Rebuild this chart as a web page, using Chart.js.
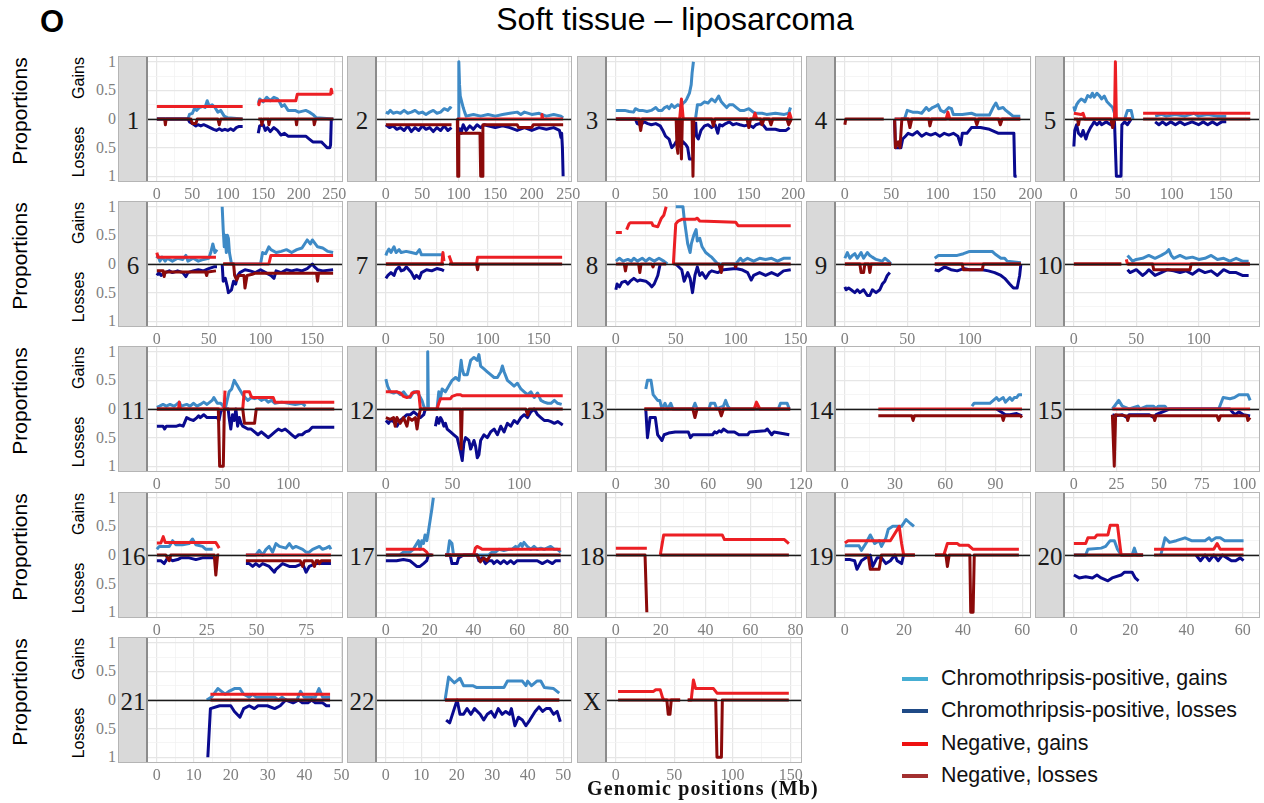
<!DOCTYPE html>
<html><head><meta charset="utf-8">
<script src="https://cdn.jsdelivr.net/npm/chart.js@4.4.0/dist/chart.umd.min.js"></script>
<style>
body{margin:0;background:#fff;}
#root{position:relative;width:1264px;height:803px;overflow:hidden;background:#fff;font-family:"Liberation Sans",Arial,sans-serif;}
.strip{position:absolute;background:#d9d9d9;border-right:2px solid #8c8c8c;box-sizing:border-box;}
.frame{position:absolute;border:1px solid #b5b5b5;box-sizing:border-box;pointer-events:none;}
.chr{position:absolute;font-family:"Liberation Serif",serif;font-size:25px;color:#1a1a1a;transform:translate(-50%,-50%);white-space:nowrap;line-height:1;}
.ytick{position:absolute;font-family:"Liberation Serif",serif;font-size:16px;color:#7f7f7f;transform:translate(-100%,-50%);line-height:1;white-space:nowrap;}
.rot{position:absolute;transform:translate(-50%,-50%) rotate(-90deg);white-space:nowrap;line-height:1;color:#000;}
.txt{position:absolute;white-space:nowrap;line-height:1;}
canvas{position:absolute;}
</style></head><body><div id="root"></div>
<script>
// ---------------- DATA ----------------
const chromosomes = ['1','2','3','4','5','6','7','8','9','10','11','12','13','14','15','16','17','18','19','20','21','22','X'];
const chromEnds = [250,243,200,191,181,171,174,148,142,142,135,133,115,106,104,89,81,79,60,63,48,50,152];
const xTickLabels = [
 [0,50,100,150,200,250],[0,50,100,150,200,250],[0,50,100,150,200],[0,50,100,150,200],[0,50,100,150],
 [0,50,100,150],[0,50,100,150],[0,50,100,150],[0,50,100],[0,50,100],
 [0,50,100],[0,50,100],[0,30,60,90,120],[0,30,60,90],[0,25,50,75,100],
 [0,25,50,75],[0,20,40,60,80],[0,20,40,60,80],[0,20,40,60],[0,20,40,60],
 [0,10,20,30,40,50],[0,10,20,30,40,50],[0,50,100,150]
];
const yTickValues = [1,0.5,0,-0.5,-1];
const yTickText = ['1','0.5','0','0.5','1'];
const seriesNames = ['Chromothripsis-positive, gains','Chromothripsis-positive, losses','Negative, gains','Negative, losses'];

// values: flat [x(Mb), proportion, ...], null = gap; losses are stored as positive proportions
const cpGains = [
 [0,0,44,0,46,0.08,50,0.1,53,0.18,56,0.15,60,0.2,65,0.22,68,0.2,71,0.32,74,0.22,78,0.25,82,0.2,86,0.12,90,0.15,95,0.05,100,0.02,121,0,null,143,0.28,145,0.35,150,0.3,155,0.38,160,0.32,165,0.38,170,0.35,173,0.3,176,0.22,180,0.25,185,0.15,195,0.15,200,0.12,210,0.15,215,0.12,220,0.08,225,0.02,249,0],
 [0,0.12,3,0.1,6,0.15,10,0.1,15,0.12,20,0.1,25,0.15,30,0.1,35,0.12,40,0.15,45,0.1,50,0.12,55,0.08,60,0.12,65,0.15,70,0.1,75,0.12,80,0.18,85,0.15,88,0.2,90,0.18,null,99,0,100,1.0,101,0.6,102,0.4,104,0.3,106,0.2,108,0.12,110,0.05,120,0.08,130,0.05,140,0.08,150,0.05,160,0.08,170,0.1,180,0.12,185,0.08,190,0.12,200,0.08,210,0.1,220,0.05,230,0.08,240,0.05,243,0.02],
 [0,0.15,10,0.15,15,0.13,20,0.12,22,0.18,26,0.15,30,0.15,35,0.13,40,0.15,45,0.2,48,0.15,52,0.15,55,0.2,58,0.22,60,0.18,63,0.25,66,0.2,70,0.25,73,0.22,76,0.28,78,0.3,80,0.35,83,0.45,85,0.6,86,0.8,87.5,1.0,null,90,0.02,92,0.25,96,0.25,100,0.3,104,0.28,108,0.35,112,0.3,116,0.4,119,0.3,122,0.25,125,0.2,128,0.25,132,0.25,136,0.2,140,0.15,145,0.15,150,0.18,155,0.12,158,0.1,165,0.1,170,0.08,180,0.1,190,0.08,195,0.1,197,0.2],
 [53.6,0,64.3,0,67.2,0.15,73,0.12,77.9,0.12,82.8,0.1,87.7,0.2,90.6,0.15,94.5,0.2,97.4,0.22,100.3,0.25,103.2,0.15,107.1,0.12,112,0.2,114.9,0.18,116.9,0.08,126.6,0.08,136.4,0.1,141.2,0.07,155.8,0.07,159.7,0.2,162.7,0.28,165.6,0.18,170.5,0.2,173.4,0.15,177.3,0.1,181.2,0.05,189,0.05],
 [0,0.22,0.9,0.15,2.8,0.25,4.7,0.3,7.5,0.35,9.4,0.33,11.3,0.3,14.1,0.41,17,0.38,18.9,0.45,20.7,0.38,23.6,0.45,26.4,0.4,28.3,0.35,31.1,0.4,33.9,0.3,36.8,0.25,39.6,0.2,41.5,0.1,42.4,0.02,null,51.9,0,54.7,0.15,58.5,0.15,60.4,0,null,83,0.05,89.6,0.08,94.3,0.05,103.7,0.08,113.2,0.05,122.6,0.1,127.3,0.05,136.7,0.08,146.2,0.05,155.6,0.05],
 [0,0.1,1,0.15,3,0.05,5,0.12,8,0.05,10,0.1,15,0.05,20,0.1,25,0.08,28,0.15,30,0.05,35,0.1,40,0.05,45,0.08,50,0.1,52,0.2,54,0.35,56,0.2,58,0.25,null,63,1.0,64,0.6,65,0.3,66,0.5,67,0.2,68,0.5,69,0.45,70,0.2,71,0.1,72,0,100,0,102,0.2,105,0.18,108,0.3,110,0.25,115,0.2,120,0.22,125,0.25,130,0.2,135,0.25,140,0.28,145,0.42,148,0.35,150,0.42,155,0.3,160,0.28,165,0.22,170,0.2],
 [0,0.15,1,0.2,3,0.26,5,0.2,8,0.3,10,0.2,13,0.25,15,0.2,20,0.22,25,0.2,30,0.18,33,0.25,35,0.16,57,0.16],
 [0,0.05,3,0.1,6,0.05,10,0.08,13,0.05,15,0.1,18,0.05,22,0.1,25,0.05,28,0.1,32,0.05,36,0.1,40,0.05,43,0,null,50,1.0,56,1.0,57,0.8,59,0.5,60,0.35,62,0.2,63,0.35,65,0.5,67,0.6,68,0.4,70,0.45,72,0.3,75,0.2,78,0.15,80,0.12,83,0.05,85,0,100,0,102,0.05,104,0.1,106,0.05,110,0.1,115,0.05,120,0.1,125,0.08,130,0.1,135,0.05,140,0.1,146,0.1],
 [0,0.1,2,0.2,4,0.1,6,0.15,8,0.18,10,0.1,13,0.2,15,0.1,18,0.2,20,0.15,22,0.12,25,0.08,30,0.05,32,0.1,35,0.05,37,0,null,72,0.1,75,0.15,90,0.15,95,0.18,100,0.22,118,0.22,120,0.18,125,0.1,128,0.1,130,0.05,141,0.02],
 [43,0.15,45,0.1,47,0.05,50,0.08,55,0.1,60,0.15,65,0.1,70,0.15,74,0.2,76,0.25,78,0.15,80,0.1,85,0.15,90,0.1,95,0.12,100,0.08,105,0.1,110,0.15,115,0.08,120,0.1,125,0.05,130,0.1,135,0.05,140,0.05],
 [0,0.03,2.1,0.05,4.7,0.08,7.2,0.05,10,0.08,13,0.05,15,0.08,17.1,0.12,18.5,0.05,22.7,0.08,25.3,0.05,28,0.1,30.5,0.05,33.1,0.08,35.7,0.12,38.2,0.08,42.1,0.15,43.4,0.2,46,0.1,48.6,0.1,50.6,0.05,52.5,0.05,55,0.3,57,0.35,58.9,0.5,60.2,0.45,61.5,0.4,62.8,0.35,64.1,0.3,65.4,0.25,67.2,0.2,69.3,0.15,71.8,0.2,74.4,0.18,77,0.2,79.6,0.15,82.2,0.18,84.8,0.12,87.3,0.15,89.9,0.1,95.1,0.12,100.3,0.1,105.4,0.08,110.6,0.1,113.2,0.05],
 [0,0.52,1.3,0.4,3.3,0.3,5.8,0.28,8.3,0.3,10.8,0.25,13.3,0.3,15.8,0.22,18.3,0.2,20.9,0.3,23.4,0.3,25.9,0.2,27.1,0.15,28.4,0.05,29.6,0,30.9,0,31.4,1.0,31.9,0,null,38.4,0,39.7,0.3,41,0.2,42.2,0.35,44.7,0.3,47.2,0.4,49.7,0.5,52.3,0.55,54.8,0.5,56.5,0.85,57.3,0.7,58.5,0.6,61.1,0.6,63.6,0.85,66.1,0.9,68.6,0.85,69.8,0.95,71.1,0.75,73.6,0.7,76.1,0.65,78.6,0.6,81.2,0.55,83.7,0.55,86.2,0.65,87.4,0.75,88.7,0.65,91.2,0.5,93.7,0.45,96.2,0.4,98.7,0.45,101.3,0.35,103.8,0.3,106.3,0.25,108.8,0.3,111.3,0.2,113.8,0.28,116.3,0.15,118.8,0.12,121.4,0.1,123.9,0.1,126.4,0.15,128.9,0.1,131.9,0.08],
 [19.4,0.35,20.5,0.5,22.8,0.5,24.2,0.25,27.1,0.15,28.5,0.15,29.9,0,31.9,0.1,33.6,0,35.6,0.1,37,0,49.9,0,51.3,0.1,52.7,0,60.4,0,61.5,0.1,64.1,0.1,65.5,0,69.8,0.05,71.2,0.15,72.6,0.05,74.1,0,105.4,0,106.8,0.1,111.1,0.1,112.5,0],
 [76,0.05,77.3,0.1,86.7,0.1,90.7,0.2,92,0.15,94.7,0.2,96,0.12,98.7,0.2,100,0.15,101.3,0.2,102.7,0.2,104,0.25,105.9,0.25],
 [22.6,0,26.3,0.15,28.4,0.05,32.4,0,37.6,0.05,38.9,0,42.9,0.05,46.8,0.05,48.2,0,49.5,0.05,53.4,0.05,54.7,0,85,0,87.6,0.2,91.6,0.18,94.2,0.2,96.8,0.25,102.1,0.25,103.4,0.15],
 [0,0.1,1.2,0.15,6.2,0.15,7.9,0.25,9.5,0.18,12.9,0.18,16.2,0.2,17.9,0.28,19.6,0.18,22.9,0.15,24.6,0.1,28,0.1,null,44.7,0,49.7,0,51.4,0.08,53.1,0,54.8,0.1,56.4,0.15,58.1,0.05,59.8,0.2,61.5,0.15,64.8,0.12,66.5,0.2,68.2,0.12,69.8,0.15,73.2,0.1,74.9,0.05,76.5,0.05,78.2,0.1,81.6,0.15,83.2,0.1,84.9,0.12,86.6,0.15,87.4,0.1],
 [0,0,6.4,0,8,0.05,11,0.05,12.6,0.1,13.3,0.15,14.9,0.25,15.6,0.1,16.4,0.25,17.2,0.2,17.9,0.35,18.7,0.25,19.4,0.4,20.2,0.6,21,0.8,21.7,1.0,null,27.1,0,28.2,0,29.1,0.25,30.2,0.2,30.9,0,47,0,48.5,0.05,50.1,0.05,51.6,0.1,53.9,0.08,56.2,0.1,57.7,0.1,59.3,0.15,60,0.12,61.6,0.2,62.3,0.15,63.1,0.22,64.6,0.15,66.2,0.1,67.7,0.15,69.2,0.1,70.8,0.12,72.3,0.1,75.3,0.15,76.9,0.1,78.4,0.1,79.9,0.05],
 [],
 [0,0.16,4.8,0.16,5.6,0.08,7.1,0.2,8.6,0.35,10.1,0.2,11.6,0.25,12.4,0.15,13.9,0.3,14.7,0.45,16.2,0.5,19.2,0.5,20.7,0.62,22.2,0.55,23.4,0.5],
 [0,0,4.2,0,5,0.1,9.7,0.12,11.3,0.15,12.9,0.25,14.4,0.25,15.5,0.1,16.8,0,20.7,0,21.5,0.12,22.3,0,24.6,0,null,30.9,0,32.4,0.3,34,0.22,36.4,0.25,39.5,0.3,41.8,0.25,46.6,0.25,48.1,0.3,48.9,0.25,50.5,0.3,52,0.3,53.6,0.25,60.3,0.25],
 [13.5,0,14.8,0.05,16.5,0.2,17.5,0.15,18.5,0.1,19.5,0.15,21,0.2,22.5,0.2,23.5,0.1,25,0.05,25.9,0.1,26.9,0.05,31.9,0.05,32.9,0,33.9,0.05,34.9,0,37.9,0,38.9,0.15,39.9,0.05,42.9,0.05,43.9,0.2,44.9,0.05,46.9,0.05],
 [16.7,0,17.7,0.4,19.3,0.3,20.9,0.38,21.9,0.25,24.5,0.25,25.5,0.22,33.3,0.22,34.3,0.33,38.5,0.33,39.5,0.25,40,0.33,41.1,0.25,42.6,0.33,43.7,0.33,44.7,0.22,47.3,0.2,48.9,0.12],
 []
];
const cpLosses = [
 [0,0,44,0,46,0.05,50,0.08,55,0.12,58,0.1,62,0.12,66,0.1,70,0.12,75,0.15,80,0.18,84,0.2,88,0.17,92,0.2,96,0.18,100,0.2,104,0.17,108,0.2,112,0.15,116,0.13,121,0.13,null,143,0.25,145,0.12,150,0.1,153,0.2,156,0.15,160,0.22,165,0.15,170,0.2,175,0.28,180,0.25,185,0.3,210,0.3,215,0.35,220,0.4,232,0.4,236,0.45,240,0.5,244,0.5,245,0.45,246,0],
 [0,0.1,5,0.15,10,0.12,15,0.18,20,0.15,25,0.2,30,0.12,35,0.22,40,0.15,45,0.2,50,0.12,55,0.18,60,0.15,65,0.22,70,0.15,75,0.2,80,0.12,85,0.2,90,0.15,null,100,0.15,103,0.25,106,0.1,110,0.2,115,0.12,120,0.18,125,0.1,130,0.15,135,0.1,140,0.12,150,0.15,160,0.12,170,0.15,180,0.2,190,0.15,200,0.2,210,0.15,220,0.18,230,0.15,238,0.2,240,0.32,241,0.25,242,0.5,243,1.0],
 [0,0,22,0,24,0.08,28,0.1,32,0.05,36,0.08,40,0.1,45,0.08,50,0.12,53,0.2,56,0.3,60,0.35,63,0.5,66,0.45,68,0.4,70,0.45,73,0.48,76,0.4,79,0.45,81,0.5,83,0.7,86,0.7,null,90,0.05,91,0.3,93,0.35,96,0.2,100,0.12,104,0.1,108,0.15,112,0.1,115,0.25,117,0.1,120,0.12,124,0.08,128,0.05,132,0.1,136,0.08,140,0.1,145,0.12,150,0.1,155,0.15,158,0.1,162,0.08,166,0.1,170,0.18,180,0.18,185,0.2,192,0.2,196,0.15],
 [53.6,0,54.5,0.5,60.4,0.5,62.3,0.35,65.3,0.3,68.2,0.25,73,0.28,77.9,0.22,82.8,0.3,87.7,0.25,92.5,0.28,97.4,0.25,102.3,0.3,107.1,0.25,112,0.28,116.9,0.25,121.8,0.3,124.7,0.45,126.6,0.25,131.5,0.25,136.4,0.15,146.1,0.15,155.8,0.18,165.6,0.25,175.3,0.25,182.1,0.25,183.1,1.0,185.1,1.0],
 [0,0.48,0.9,0.2,2.8,0.1,4.7,0.25,7.5,0.3,9.4,0.2,12.3,0.35,14.1,0.25,17,0.15,18.9,0.1,20.7,0.05,23.6,0.1,26.4,0.05,28.3,0.1,33,0.05,37.7,0.1,41.5,0.05,43.4,1.0,48.1,1.0,49,0.1,51.9,0.05,54.7,0.1,56.6,0.05,58.5,0,null,83,0.05,86.8,0.1,90.5,0.05,94.3,0.1,99,0.05,103.7,0.1,108.4,0.05,113.2,0.1,120.7,0.05,127.3,0.1,132,0.05,136.7,0.1,141.5,0.05,146.2,0.1,150.9,0.05,155.6,0.05],
 [0,0.2,2,0.15,4,0.2,8,0.15,12,0.12,15,0.15,20,0.12,25,0.15,28,0.22,30,0.15,35,0.12,40,0.1,45,0.12,50,0.08,55,0.05,58,0.05,null,63,0,64,0.3,66,0.25,68,0.4,69,0.5,72,0.45,74,0.3,76,0.35,78,0.2,80,0.15,85,0.1,90,0.12,95,0.15,100,0.1,105,0.15,110,0.2,113,0.25,115,0.12,120,0.15,125,0.1,130,0.12,135,0.1,140,0.12,145,0.08,150,0,152,0.05,155,0.1,160,0.12,170,0.1],
 [0,0.25,2,0.2,5,0.15,8,0.2,10,0.1,13,0.05,15,0.12,18,0.1,20,0.05,25,0.15,28,0.25,30,0.2,33,0.25,35,0.15,40,0.1,45,0.12,50,0.08,55,0.1,57,0.12],
 [0,0.45,1,0.35,3,0.4,5,0.32,8,0.3,10,0.35,12,0.3,15,0.25,18,0.3,20,0.28,25,0.3,28,0.35,30,0.4,32,0.35,35,0.2,37,0,null,50,0,55,0.1,57,0.3,60,0.15,62,0.25,64,0.5,66,0.2,68,0.05,70,0.2,72,0.15,75,0.25,78,0.15,80,0.12,85,0.15,90,0.1,100,0.08,105,0.1,110,0.15,113,0.28,115,0.2,120,0.15,125,0.2,130,0.15,135,0.2,140,0.12,146,0.1],
 [0,0.4,1,0.45,3,0.42,5,0.45,8,0.5,10,0.45,12,0.5,15,0.45,18,0.55,20,0.55,22,0.45,25,0.5,28,0.45,30,0.35,32,0.3,34,0.2,36,0.15,null,72,0.1,75,0.12,80,0.05,85,0.1,90,0.12,95,0.08,100,0.1,110,0.1,115,0.12,120,0.15,125,0.2,128,0.25,132,0.35,135,0.42,138,0.42,140,0.2,141,0],
 [43,0.1,45,0.15,50,0.1,55,0.2,58,0.15,60,0.1,65,0.2,70,0.15,75,0.1,80,0.12,85,0.15,90,0.12,95,0.18,100,0.1,105,0.15,110,0.12,115,0.2,120,0.1,125,0.15,130,0.15,135,0.2,140,0.2],
 [0,0.3,4.7,0.3,5.9,0.35,7.2,0.3,15,0.3,17.6,0.28,20,0.3,22.7,0.15,25.3,0.18,28,0.2,30.5,0.15,31.8,0.12,33.1,0.15,35.7,0.1,38.2,0.15,46,0.15,47.3,0.2,48.6,0.05,49.9,0,54.3,0,55,0.15,56.3,0.35,57.6,0.1,58.9,0.2,60.2,0,61.5,0.3,62.8,0.15,64.1,0.25,65.4,0.3,69.3,0.35,71.8,0.35,74.4,0.4,77,0.45,79.6,0.4,82.2,0.45,84.8,0.5,87.3,0.45,89.9,0.4,92.5,0.35,95.1,0.38,97.7,0.35,100.3,0.4,102.8,0.45,105.4,0.5,108,0.45,110.6,0.45,113.2,0.4,115.8,0.38,118.3,0.32,135.1,0.32],
 [0,0.2,2,0.25,3.3,0.2,5.8,0.22,8.3,0.3,10.8,0.2,13.3,0.15,15.8,0.1,18.3,0.1,20.9,0.05,23.4,0.1,25.9,0.15,28.4,0.1,29.6,0,null,37.2,0.3,38.4,0.15,39.7,0.25,41,0.15,42.2,0.2,43.5,0.3,44.7,0.25,46,0.35,48.5,0.4,51,0.45,53.5,0.5,56,0.75,57.3,0.9,58.5,0.6,59.8,0.5,62.3,0.55,63.6,0.7,66.1,0.55,67.3,0.65,68.6,0.85,69.8,0.8,71.1,0.55,73.6,0.45,76.1,0.5,78.6,0.4,81.2,0.35,83.7,0.45,86.2,0.3,88.7,0.4,91.2,0.25,93.7,0.3,96.2,0.2,98.7,0.25,101.3,0.15,103.8,0.1,106.3,0.15,108.8,0.05,111.3,0,113.8,0.1,116.3,0.15,118.8,0.2,121.4,0.2,123.9,0.22,126.4,0.25,128.9,0.22,132.7,0.28],
 [19.4,0,20.5,0.5,22.2,0.15,25.6,0.15,27.1,0.45,28.5,0.5,29.9,0.55,31.3,0.45,34.2,0.42,38.5,0.4,47,0.4,48.4,0.5,49.9,0.45,62.7,0.45,64.1,0.4,65.5,0.42,67,0.38,68.4,0.4,69.8,0.35,72.6,0.4,76.9,0.4,79.8,0.45,85.5,0.45,86.9,0.4,96.9,0.38,98.3,0.35,101.1,0.45,102.6,0.4,112.5,0.45],
 [90.7,0,93.3,0.05,96,0.1,98.7,0.1,102.7,0.08,105.9,0.12],
 [22.6,0.1,24.5,0.12,28.4,0.1,31.1,0.15,32.4,0.1,44.2,0.1,46.8,0.15,48.2,0.1,56,0,91.6,0,92.9,0.05,94.7,0.1,96.8,0.05,99.5,0.1,103.4,0.12],
 [0,0.1,2,0.1,3.7,0.15,5.4,0.05,7.9,0.1,10.4,0.08,12.1,0.05,16.2,0.05,19.6,0.08,22.9,0.05,28.8,0.05,null,44.7,0.15,46.4,0.15,48.1,0.2,49.7,0.15,51.4,0.2,53.1,0.15,56.4,0.2,59,0.3,59.8,0.25,61.5,0.2,63.1,0.15,66.5,0.2,69.8,0.2,73.2,0.15,74.9,0.3,76.5,0.2,79.9,0.15,87.4,0.15],
 [0,0.1,4.9,0.1,8,0.08,11,0.1,12.6,0.15,14.1,0.2,15.6,0.2,17.2,0.15,18.7,0.1,19.4,0,21,0,null,27.1,0,29.4,0,30.2,0.15,32.5,0.15,33.2,0.05,35.5,0,41.7,0,42.5,0.1,44,0.05,45.5,0.15,47,0.1,48.5,0.1,49.3,0.15,50.8,0.1,52.4,0.15,53.9,0.1,55.4,0.15,57,0.1,58.5,0.15,60,0.1,63.1,0.1,66.2,0.1,69.2,0.1,71.5,0.15,73.8,0.1,76.1,0.15,77.6,0.1,79.9,0.1],
 [],
 [0,0.08,1.8,0.08,3.3,0.1,4.1,0.25,5.6,0.1,7.1,0.05,8.6,0,9.4,0.2,10.9,0.05,12.4,0.05,13.9,0.15,15.4,0.1,16.9,0,17.7,0.1,19.2,0.15,19.9,0],
 [0,0.35,1.9,0.4,4.2,0.38,6.6,0.4,8.2,0.35,9.7,0.4,12.1,0.45,13.6,0.4,16.8,0.35,18,0.3,20.7,0.3,21.8,0.4,23,0.45,null,43.4,0,45,0.1,46.6,0,48.1,0.1,49.7,0,51.3,0.1,52.8,0,54.4,0.05,56,0.1,57.5,0.1,59.1,0.05,60.3,0.1],
 [13.8,1.0,14.5,0.15,17,0.1,20,0.1,21,0.2,22.5,0.3,23.5,0.15,25,0.1,26.4,0.15,27.4,0.1,29.9,0.1,31.9,0.15,33.4,0.1,34.9,0,36.9,0.05,38.4,0,39.4,0.05,40.9,0.05,41.9,0,42.9,0.05,44.9,0.05,45.9,0.1,46.9,0.1],
 [17,0.35,18,0.4,19.3,0.15,20.1,0,20.9,0.25,21.9,0.25,22.9,0.15,24,0.25,25,0.15,26.6,0.25,27.6,0.35,28.6,0.25,29.7,0.2,30.7,0.3,31.7,0.15,32.8,0.25,33.8,0.2,34.9,0.25,35.4,0.15,36.4,0.45,37.4,0.3,38.5,0.35,39.5,0.45,40.6,0.35,42.1,0.2,43.2,0.12,44.2,0.2,45.2,0.15,46.3,0.15,47.3,0.25,48.3,0.2,49.2,0.38],
 []
];
const negGains = [
 [0,0.22,121,0.22,null,143,0.28,144,0.25,145,0.32,196,0.32,198,0.43,245,0.43,246,0.52,247,0.46,249,0.46],
 [99,0,213,0,214,0.08,215,0,243,0],
 [0,0,72,0,74,0.35,76,0,155,0,157,0.1,159,0,194,0,196,0.1,198,0],
 [53.6,0,109.1,0,111,0.12,113,0,189,0],
 [0,0.1,7.5,0.08,9.4,0.1,11.3,0,41.5,0,42.4,1.0,43.4,0,58.5,0,null,70.7,0.1,180.1,0.1],
 [0,0.2,1,0.12,57,0.12,null,64,0,108,0,110,0.15,170,0.15],
 [0,0,55,0,56,0.2,57,0.05,null,62,0.15,64,0.05,65,0,89,0,90,0.12,173,0.12],
 [0,0.55,5,0.55,null,9,0.6,11,0.7,12,0.72,30,0.72,31,0.67,35,0.65,38,0.8,40,0.85,42,1.0,null,48,0,50,0.7,52,0.75,55,0.78,66,0.78,68,0.8,70,0.75,100,0.73,102,0.67,146,0.67],
 [0,0,37,0,null,72,0,141,0],
 [0,0,38,0,null,42,0.08,43,0,141,0],
 [0,0,16.5,0,17.1,0.12,17.7,0,51.2,0,51.9,0.32,52.5,0.32,null,65.4,0,66.5,0.3,70.5,0.3,71.8,0.22,73.1,0.2,88.6,0.2,89.9,0.12,135.1,0.12],
 [0,0.3,8.3,0.3,10.8,0.28,13.3,0.22,15.8,0.2,18.3,0.22,19.6,0.28,23.4,0.3,24.6,0.3,25.9,0,38.4,0,39.7,0.1,41,0.18,48.5,0.18,49.7,0.22,53.5,0.25,56,0.25,57.3,0.23,132.7,0.23],
 [18.5,0,89.7,0,91.2,0.12,93.4,0,113.1,0],
 [20,0,105.9,0],
 [22.6,0,103.4,0],
 [0,0.21,2,0.21,3.2,0.32,4.2,0.22,29.6,0.22,31.3,0.12,null,44.7,0,87.4,0],
 [0,0.1,17.2,0.1,18.7,0.05,19.4,0,null,27.1,0,40.1,0,40.9,0.12,41.7,0.15,43.2,0.12,44,0.1,79.9,0.1],
 [0,0.12,13.8,0.12,null,19.8,0,21.3,0.35,47.4,0.35,48.4,0.27,75.1,0.27,77.1,0.2],
 [0,0.21,1.1,0.25,15.4,0.25,18.4,0.5,19.2,0.2,19.9,0,23.7,0,null,30.5,0,33.5,0,34.7,0.2,38.1,0.2,38.8,0.17,41.8,0.17,43.4,0.1,58.9,0.1],
 [0,0.2,4.2,0.2,5,0.3,7.4,0.3,8.2,0.35,12.1,0.35,12.9,0.52,15.5,0.52,16.8,0,24.6,0,null,28.5,0.1,49.7,0.1,50.9,0.2,52,0.1,60.3,0.1],
 [14.5,0.1,46.9,0.1],
 [16.7,0,48.9,0],
 [1.9,0.15,32.3,0.15,34.2,0.18,38,0.18,39.9,0.05,41.1,0,55.1,0,null,61.6,0,64.6,0,66.5,0.35,68.4,0.2,83.7,0.2,86.7,0.12,148.3,0.12]
];
const negLosses = [
 [0,0,11,0,12,0.1,13,0,48,0,50,0.08,55,0.08,57,0,86,0,88,0.1,90,0,121,0,null,143,0,147,0,148,0.1,150,0,157,0,158,0.1,160,0,196,0,197,0.1,198,0,221,0,222,0.1,224,0,249,0],
 [0,0.1,90,0.1,null,98,0,98.5,1.0,99.5,1.0,100,0.25,129,0.25,130,1.0,132,1.0,133,0.1,180,0.1,182,0.15,200,0.15,202,0.1,243,0.1],
 [0,0,26,0,28,0.2,30,0,68,0,69,0.5,70,0.6,71,0,73,0,74,0.7,75,0,86,0,87,1.0,88,0,108,0,110,0.12,112,0,148,0,150,0.15,152,0,163,0,165,0.1,167,0,173,0,175,0.1,177,0,193,0,195,0.1,198,0],
 [0,0.1,1,0,41.9,0,null,53.6,0,54.5,0.5,57.5,0.4,59.4,0.5,61.4,0,68.2,0,70.1,0.15,72.1,0,90.6,0,91.6,0.12,93.5,0,140.3,0,142.2,0.1,144.2,0,165.6,0,167.5,0.1,169.5,0,189,0],
 [0,0,3.8,0,4.7,0.1,5.7,0,37.7,0,39.6,0.15,41.5,0,58.5,0,null,70.7,0,180.1,0],
 [0,0.12,6,0.12,7,0.22,8,0.14,47,0.14,48,0.2,49,0.14,57,0.12,null,64,0,74,0,75,0.2,77,0.28,79,0.2,84,0.2,85,0.42,87,0.2,92,0.18,95,0.16,154,0.16,155,0.3,156,0.16,170,0.16],
 [0,0,57,0,null,62,0,89,0,90,0.1,91,0,173,0],
 [0,0,7,0,8,0.12,9,0,19,0,20,0.15,21,0,30,0,31,0.05,32,0,42,0,null,48,0,86,0,88,0.15,89,0,99,0,100,0.05,101,0,146,0],
 [0,0,12,0,13,0.15,15,0.15,16,0,19,0,20,0.15,21,0,37,0,null,72,0,94,0,95,0.1,110,0.1,111,0,141,0],
 [0,0,38,0,null,43,0,63,0,64,0.1,93,0.1,94,0,141,0],
 [0,0,46.8,0,47.8,1.0,50.6,1.0,51.4,0,65.4,0,66.7,0.25,74.4,0.25,75.7,0,135.1,0],
 [0,0.15,3.3,0.18,5.8,0.15,7,0.3,8.3,0.15,10.8,0.25,13.3,0.15,15.8,0.3,17.1,0.15,19.6,0.2,22.1,0.15,23.4,0.35,24.6,0.15,25.9,0,56,0,56.5,0.7,57.3,0,105,0,106.3,0.1,107.5,0,132.7,0],
 [18.5,0,49.9,0,51.3,0.15,52.7,0,67,0,68.4,0.12,69.8,0,113.1,0],
 [20,0.12,40,0.12,40.8,0.2,41.6,0.12,94,0.12,94.7,0.2,95.5,0.12,105,0.12,105.9,0.15],
 [22.6,0.1,23.7,1.0,24.5,0.1,31.1,0.12,31.6,0.2,32.4,0.12,46.8,0.12,47.4,0.2,48.2,0.12,84,0.12,85,0.2,86,0.12,101.5,0.12,102.1,0.2,103.4,0.15],
 [0,0,4.5,0,6.2,0.1,7,0,28.8,0,29.6,0.35,30.5,0,31.3,0,null,44.7,0.1,72,0.1,73.2,0.2,74,0.1,78,0.1,79.1,0.2,80,0.1,81,0.1,81.6,0.15,82.5,0.1,87.4,0.1],
 [0,0,21.7,0,null,27.1,0,41.7,0,43.2,0.12,44.7,0.05,46.2,0.1,47.8,0,79.9,0],
 [0,0,13,0,13.8,1.0,null,19.8,0,77.1,0],
 [0,0,7.9,0,8.6,0.25,11.6,0.25,12.4,0,23.7,0,null,30.5,0,34.2,0,34.7,0.2,35.3,0,42.3,0,42.6,1.0,43.4,1.0,43.8,0,58.9,0],
 [0,0,24.6,0,null,28.5,0,60.3,0],
 [14.5,0,46.9,0],
 [16.7,0,48.9,0],
 [1.9,0,43.7,0,44.9,0.25,46.4,0.25,47.5,0,55.1,0,null,61.6,0,85.6,0,86.7,1.0,90.5,1.0,91.3,0,148.3,0]
];

// ---------------- STYLE ----------------
const lineColors = {cpG:'#3e8ac6', cpL:'#0a0a8f', nG:'#ec1f24', nL:'#8b0a0a'};
const legendColors = ['#46aed3','#1f4a86','#ee1111','#a33030'];

const root = document.getElementById('root');
function el(cls, css, text){
  const d = document.createElement('div');
  if (cls) d.className = cls;
  Object.assign(d.style, css);
  if (text != null) d.textContent = text;
  root.appendChild(d);
  return d;
}

// header
el('txt', {left:'52px', top:'21px', transform:'translate(-50%,-50%)', fontSize:'31px', fontWeight:'bold'}, 'O');
el('txt', {left:'675px', top:'19px', transform:'translate(-50%,-50%)', fontSize:'32px'}, 'Soft tissue \u2013 liposarcoma');

const PLOT_H = 126, PLOT_W = 195, STRIP_W = 30;
const unitPx = PLOT_H / 2.2;
const colLeft = c => Math.round(118 + 229.3 * c);
const rowZero = r => Math.round(118.5 + 145.4 * r);

function toPts(a, s){
  const out = [];
  for (let i = 0; i < a.length;){
    if (a[i] === null){ out.push({x: out.length ? out[out.length-1].x : 0, y: null}); i++; }
    else { out.push({x: a[i], y: s * a[i+1]}); i += 2; }
  }
  return out;
}

const zeroLine = {
  id:'zeroLine',
  afterDatasetsDraw(chart){
    const {ctx, chartArea, scales} = chart;
    const y = Math.round(scales.y.getPixelForValue(0)) + 0.5;
    ctx.save();
    ctx.strokeStyle = '#1a1a1a'; ctx.lineWidth = 1.6;
    ctx.beginPath(); ctx.moveTo(chartArea.left, y); ctx.lineTo(chartArea.right, y); ctx.stroke();
    ctx.restore();
  }
};
const yGridVals = [-1,-0.75,-0.5,-0.25,0,0.25,0.5,0.75,1];

// row labels
for (let r = 0; r < 5; r++){
  const z = rowZero(r);
  el('rot', {left:'19px', top:(z-8)+'px', fontSize:'21px'}, 'Proportions');
  el('rot', {left:'79px', top:(z-41)+'px', fontSize:'16px'}, 'Gains');
  el('rot', {left:'79px', top:(z+33)+'px', fontSize:'16px'}, 'Losses');
  yTickValues.forEach((v, k) => {
    el('ytick', {left:'116px', top:(z - v*unitPx)+'px'}, yTickText[k]);
  });
}

chromosomes.forEach((chr, i) => {
  const r = Math.floor(i/5), c = i % 5;
  const sx = colLeft(c), z = rowZero(r), top = z - PLOT_H/2;
  const D = chromEnds[i];
  const labels = xTickLabels[i];
  const step = labels[1] - labels[0];
  const half = step / 2;
  const xmin = -0.05*D, xmax = 1.05*D;

  el('strip', {left:sx+'px', top:top+'px', width:STRIP_W+'px', height:PLOT_H+'px'});
  el('chr', {left:(sx+STRIP_W/2)+'px', top:(z+1)+'px'}, chr);

  const cv = document.createElement('canvas');
  const cw = PLOT_W + 12, ch = PLOT_H + 24;
  cv.width = cw; cv.height = ch;
  Object.assign(cv.style, {left:(sx+STRIP_W)+'px', top:top+'px', width:cw+'px', height:ch+'px'});
  root.appendChild(cv);

  const isLabel = v => labels.some(L => Math.abs(L - v) < 1e-6);
  const isMajorX = v => Math.abs(v/step - Math.round(v/step)) < 1e-6;
  const isMajorY = v => Math.abs(v*2 - Math.round(v*2)) < 1e-6;

  const ds = (arr, sign, color) => ({data: toPts(arr, sign), borderColor: color, backgroundColor: color,
    borderWidth: 3, pointRadius: 0, tension: 0, fill: false, spanGaps: false,
    borderJoinStyle: 'round', borderCapStyle: 'butt'});

  new Chart(cv, {
    type: 'line',
    data: {datasets: [
      ds(negLosses[i], -1, lineColors.nL),
      ds(negGains[i], 1, lineColors.nG),
      ds(cpLosses[i], -1, lineColors.cpL),
      ds(cpGains[i], 1, lineColors.cpG)
    ]},
    options: {
      responsive: false, animation: false, events: [],
      layout: {padding: {left: 0, right: cw - PLOT_W, top: 0, bottom: 0}},
      plugins: {legend: {display: false}, tooltip: {enabled: false}},
      scales: {
        x: {
          type: 'linear', min: xmin, max: xmax,
          afterBuildTicks: s => {
            const t = [];
            for (let k = Math.ceil(xmin/half); k*half <= xmax + 1e-9; k++) t.push({value: k*half});
            s.ticks = t;
          },
          afterFit: s => { s.height = ch - PLOT_H; s.paddingLeft = 0; s.paddingRight = 0; },
          ticks: {autoSkip: false, maxRotation: 0, minRotation: 0, padding: 3, color: '#7f7f7f',
            font: {family: 'Liberation Serif', size: 16},
            callback: v => isLabel(v) ? String(v) : ''},
          grid: {drawTicks: false, color: ctx => (ctx.tick && isMajorX(ctx.tick.value)) ? '#e6e6e6' : '#f2f2f2',
            lineWidth: ctx => (ctx.tick && isMajorX(ctx.tick.value)) ? 1.2 : 0.8},
          border: {display: false}
        },
        y: {
          type: 'linear', min: -1.1, max: 1.1,
          afterBuildTicks: s => { s.ticks = yGridVals.map(v => ({value: v})); },
          afterFit: s => { s.width = 0; },
          ticks: {display: false},
          grid: {drawTicks: false, color: ctx => (ctx.tick && isMajorY(ctx.tick.value)) ? '#e6e6e6' : '#f2f2f2',
            lineWidth: ctx => (ctx.tick && isMajorY(ctx.tick.value)) ? 1.2 : 0.8},
          border: {display: false}
        }
      }
    },
    plugins: [zeroLine]
  });

  el('frame', {left:sx+'px', top:top+'px', width:(STRIP_W+PLOT_W)+'px', height:PLOT_H+'px'});
});

// x axis title
el('txt', {left:'703px', top:'788px', transform:'translate(-50%,-50%)', fontFamily:'"Liberation Serif",serif', fontWeight:'bold', fontSize:'20px', letterSpacing:'1.2px', color:'#111'}, 'Genomic positions (Mb)');

// legend
const legendY = [679, 711, 744, 776];
seriesNames.forEach((name, k) => {
  el('', {position:'absolute', left:'902px', top:(legendY[k]-2)+'px', width:'26px', height:'4px', background:legendColors[k]});
  el('txt', {left:'941px', top:legendY[k]+'px', transform:'translateY(-50%)', fontSize:'21.4px', color:'#111'}, name);
});
</script>
</body></html>
